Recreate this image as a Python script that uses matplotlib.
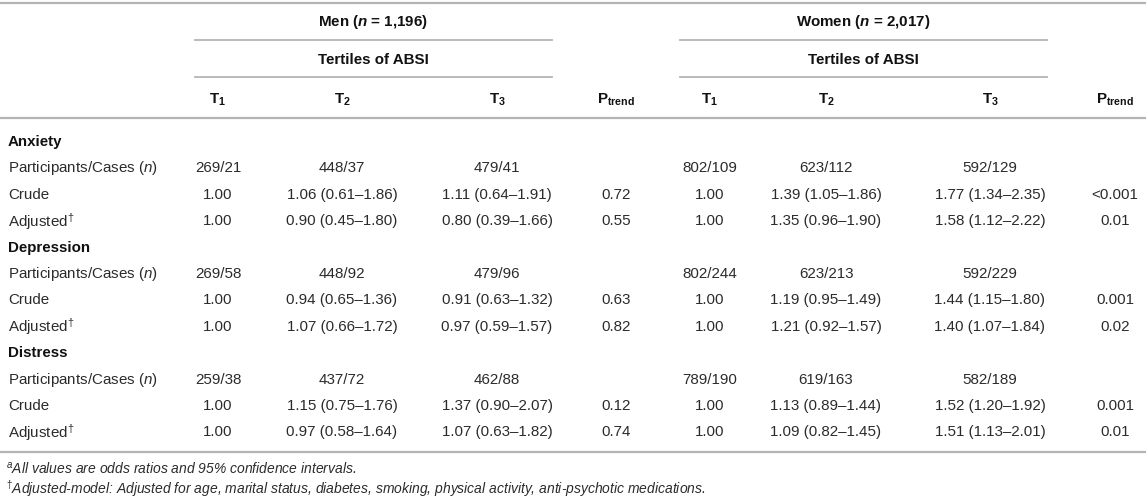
import matplotlib
matplotlib.use("Agg")
import matplotlib.pyplot as plt
from matplotlib.lines import Line2D

plt.rcParams['font.family'] = ['Liberation Sans', 'DejaVu Sans']
plt.rcParams['mathtext.fontset'] = 'custom'
plt.rcParams['mathtext.rm'] = 'Liberation Sans'
plt.rcParams['mathtext.it'] = 'Liberation Sans:italic'
plt.rcParams['mathtext.bf'] = 'Liberation Sans:bold'
plt.rcParams['mathtext.bfit'] = 'Liberation Sans:bold:italic'

# ---- data ----
groups = ["Men ($\\mathbfit{n}$ = 1,196)", "Women ($\\mathbfit{n}$ = 2,017)"]
subheader = "Tertiles of ABSI"
col_labels = ["$\\mathbf{T}_{\\mathbf{1}}$", "$\\mathbf{T}_{\\mathbf{2}}$",
              "$\\mathbf{T}_{\\mathbf{3}}$", "$\\mathbf{P}_{\\mathbf{trend}}$"]
sections = ["Anxiety", "Depression", "Distress"]
row_labels = ["Participants/Cases ($\\mathit{n}$)", "Crude", "Adjusted$^{\u2020}$"]

men_anxiety = [["269/21", "448/37", "479/41", ""],
               ["1.00", "1.06 (0.61\u20131.86)", "1.11 (0.64\u20131.91)", "0.72"],
               ["1.00", "0.90 (0.45\u20131.80)", "0.80 (0.39\u20131.66)", "0.55"]]
women_anxiety = [["802/109", "623/112", "592/129", ""],
                 ["1.00", "1.39 (1.05\u20131.86)", "1.77 (1.34\u20132.35)", "<0.001"],
                 ["1.00", "1.35 (0.96\u20131.90)", "1.58 (1.12\u20132.22)", "0.01"]]
men_depression = [["269/58", "448/92", "479/96", ""],
                  ["1.00", "0.94 (0.65\u20131.36)", "0.91 (0.63\u20131.32)", "0.63"],
                  ["1.00", "1.07 (0.66\u20131.72)", "0.97 (0.59\u20131.57)", "0.82"]]
women_depression = [["802/244", "623/213", "592/229", ""],
                    ["1.00", "1.19 (0.95\u20131.49)", "1.44 (1.15\u20131.80)", "0.001"],
                    ["1.00", "1.21 (0.92\u20131.57)", "1.40 (1.07\u20131.84)", "0.02"]]
men_distress = [["259/38", "437/72", "462/88", ""],
                ["1.00", "1.15 (0.75\u20131.76)", "1.37 (0.90\u20132.07)", "0.12"],
                ["1.00", "0.97 (0.58\u20131.64)", "1.07 (0.63\u20131.82)", "0.74"]]
women_distress = [["789/190", "619/163", "582/189", ""],
                  ["1.00", "1.13 (0.89\u20131.44)", "1.52 (1.20\u20131.92)", "0.001"],
                  ["1.00", "1.09 (0.82\u20131.45)", "1.51 (1.13\u20132.01)", "0.01"]]
footnotes = ["$^{\\mathit{a}}$All values are odds ratios and 95% confidence intervals.",
             "$^{\u2020}$Adjusted-model: Adjusted for age, marital status, diabetes, smoking, physical activity, anti-psychotic medications."]

# ---- layout (pixels) ----
W, H = 1146, 502
fig = plt.figure(figsize=(W / 100, H / 100), dpi=100)
fig.patch.set_facecolor("white")

def X(px):
    return px / W

def Y(py):
    return 1 - py / H

def hline(y, x0, x1, lw=1.6, color="#b4b4b4"):
    fig.add_artist(Line2D([X(x0), X(x1)], [Y(y), Y(y)], lw=lw, color=color,
                          transform=fig.transFigure))

FS = 10.9
FN = 10.0
HEAD = "#111111"
BODY = "#2b2b2b"

men_cols = [218, 342, 497, 616]
women_cols = [710, 826, 990, 1115]
group_spans = [(195, 552), (680, 1047)]

hline(4, 0, W)
for g, (a, b) in zip(groups, group_spans):
    c = (a + b) / 2
    fig.text(X(c), Y(22), g, ha="center", va="center", fontsize=FS,
             fontweight="bold", color=HEAD)
    hline(41, a, b, lw=1.3)
    fig.text(X(c), Y(60), subheader, ha="center", va="center", fontsize=FS,
             fontweight="bold", color=HEAD)
    hline(78, a, b, lw=1.3)

for cols in (men_cols, women_cols):
    for cx, lab in zip(cols, col_labels):
        fig.text(X(cx), Y(100), lab, ha="center", va="center", fontsize=FS,
                 color=HEAD)
hline(119, 0, W)

men_data = [men_anxiety, men_depression, men_distress]
women_data = [women_anxiety, women_depression, women_distress]

y0, dy = 142, 26.4
r = 0
for s, sec in enumerate(sections):
    fig.text(X(8), Y(y0 + r * dy), sec, ha="left", va="center", fontsize=FS,
             fontweight="bold", color=HEAD)
    r += 1
    for i, lab in enumerate(row_labels):
        yy = Y(y0 + r * dy)
        fig.text(X(8), yy, lab, ha="left", va="center", fontsize=FS, color=BODY)
        for cols, data in ((men_cols, men_data[s]), (women_cols, women_data[s])):
            for cx, val in zip(cols, data[i]):
                if val:
                    fig.text(X(cx), yy, val, ha="center", va="center",
                             fontsize=FS, color=BODY)
        r += 1

hline(453, 0, W)
fig.text(X(6), Y(469), footnotes[0], ha="left", va="center", fontsize=FN,
         style="italic", color=BODY)
fig.text(X(6), Y(489), footnotes[1], ha="left", va="center", fontsize=FN,
         style="italic", color=BODY)

fig.savefig("out.png", dpi=100, facecolor="white")
